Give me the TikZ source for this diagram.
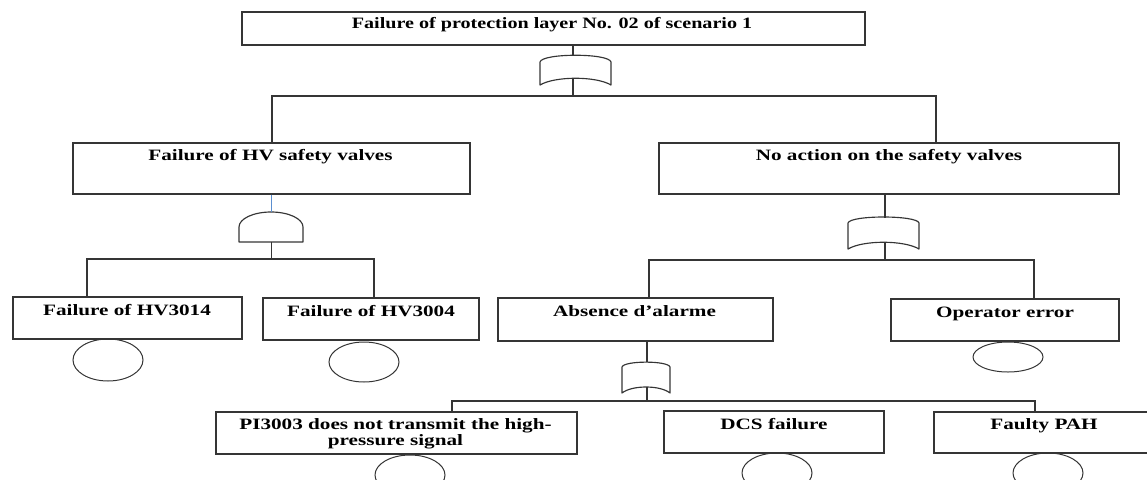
\documentclass[tikz,border=0pt]{standalone}
\usepackage{fontspec}
\setmainfont{Liberation Serif}[FakeStretch=1.34]
\usetikzlibrary{shapes.geometric}

\definecolor{linec}{HTML}{353535}
\definecolor{bluec}{HTML}{5B8FD0}

\tikzset{
  evbox/.style={draw=linec, line width=1.15pt, rectangle, inner sep=0pt},
  lbl/.style={font=\fontsize{15.8}{16}\selectfont\bfseries, inner sep=0pt, anchor=base, text=black},
  basic/.style={draw=linec, line width=1pt, ellipse, inner sep=0pt, minimum width=70pt},
  gate/.style={draw=linec, line width=1.15pt, line join=round},
  wire/.style={draw=linec, line width=1.15pt},
}

\begin{document}
\begin{tikzpicture}[x=1pt, y=-1pt]
  \useasboundingbox (0,0) rectangle (1147,479);
  \clip (0,0) rectangle (1147,479);

  % ---- event boxes ----
  \node[evbox, minimum width=623pt, minimum height=33pt] (top)  at (553.5,28.5) {};
  \node[evbox, minimum width=397pt, minimum height=51pt] (hv)   at (271.5,168.5) {};
  \node[evbox, minimum width=460pt, minimum height=51pt] (nav)  at (889,168.5) {};
  \node[evbox, minimum width=229pt, minimum height=42pt] (hv14) at (127.5,318) {};
  \node[evbox, minimum width=216pt, minimum height=42pt] (hv04) at (371,319) {};
  \node[evbox, minimum width=275pt, minimum height=43pt] (abs)  at (635.5,319.5) {};
  \node[evbox, minimum width=228pt, minimum height=42pt] (op)   at (1005,320) {};
  \node[evbox, minimum width=361pt, minimum height=42pt] (pi)   at (396.5,433) {};
  \node[evbox, minimum width=220pt, minimum height=42pt] (dcs)  at (774,432) {};
  \node[evbox, minimum width=226pt, minimum height=41pt] (pah)  at (1047,432.5) {};

  % ---- box labels ----
  \node[lbl] (ttop)  at (552,28) {\scalebox{0.95}[1]{Failure of protection layer No. 02 of scenario 1}};
  \node[lbl] (thv)   at (270.5,160) {Failure of HV safety valves};
  \node[lbl] (tnav)  at (889,160) {No action on the safety valves};
  \node[lbl] (thv14) at (127,315) {Failure of HV3014};
  \node[lbl] (thv04) at (371,316) {Failure of HV3004};
  \node[lbl] (tabs)  at (634.5,316) {Absence d’alarme};
  \node[lbl] (top2)  at (1005,317) {Operator error};
  \node[lbl, anchor=north, align=center] (tpi) at (395.5,418.3)
        {PI3003 does not transmit the high-\\pressure signal};
  \node[lbl] (tdcs)  at (774,429) {DCS failure};
  \node[lbl] (tpah)  at (1044,429) {Faulty PAH};

  % ---- basic events ----
  \node[basic, minimum height=42pt] (e1) at (108,360) {};
  \node[basic, minimum height=40pt] (e2) at (364,362) {};
  \node[basic, minimum height=30pt] (e3) at (1008,357) {};
  \node[basic, minimum height=40pt] (e4) at (410,475) {};
  \node[basic, minimum height=40pt] (e5) at (777,473) {};
  \node[basic, minimum height=40pt] (e6) at (1048,473) {};

  % ---- OR gates ----
  \draw[gate] (540,85) -- (540,62) .. controls (542,53) and (609,53) .. (611,62)
              -- (611,85) .. controls (596,76) and (555,76) .. cycle;
  \draw[gate] (848,249) -- (848,223) .. controls (850,215) and (917,215) .. (919,223)
              -- (919,249) .. controls (904,240) and (863,240) .. cycle;
  \draw[gate] (622,393) -- (622,367) .. controls (624,360.5) and (668,360.5) .. (670,367)
              -- (670,393) .. controls (660,385) and (632,385) .. cycle;
  % ---- AND gate ----
  \draw[gate] (239,242) -- (239,227) arc[start angle=180, end angle=360, x radius=32, y radius=15]
              -- (303,242) -- cycle;

  % ---- gate ports ----
  \coordinate (g0in)  at (573,56);
  \coordinate (g0out) at (573,78);
  \coordinate (bus0)  at (573,96);
  \coordinate (andin) at (271.5,212);
  \coordinate (andout) at (271.5,242);
  \coordinate (bus1)  at (271.5,259);
  \coordinate (g1in)  at (885,217.5);
  \coordinate (g1out) at (885,242.5);
  \coordinate (bus2)  at (885,260);
  \coordinate (g2in)  at (647,362);
  \coordinate (g2out) at (647,387);
  \coordinate (bus3)  at (647,401);

  % ---- connectors ----
  \draw[wire] (top.south -| g0in) -- (g0in);
  \draw[wire] (g0out) -- (bus0);
  \draw[wire] (hv.north -| 272,0) |- (bus0) -| (nav.north -| 936,0);

  \draw[bluec, line width=0.9pt] (hv.south) -- (andin);
  \draw[wire] (andout) -- (bus1);
  \draw[wire] (hv14.north -| 87,0) |- (bus1) -| (hv04.north -| 374,0);

  \draw[wire] (nav.south -| g1in) -- (g1in);
  \draw[wire] (g1out) -- (bus2);
  \draw[wire] (abs.north -| 649,0) |- (bus2) -| (op.north -| 1034,0);

  \draw[wire] (abs.south -| g2in) -- (g2in);
  \draw[wire] (g2out) -- (bus3);
  \draw[wire] (pi.north -| 452,0) |- (bus3) -| (pah.north -| 1035,0);
  \draw[wire] (dcs.north -| 766,0) -- (dcs.north -| 766,0 |- bus3);
\end{tikzpicture}
\end{document}
